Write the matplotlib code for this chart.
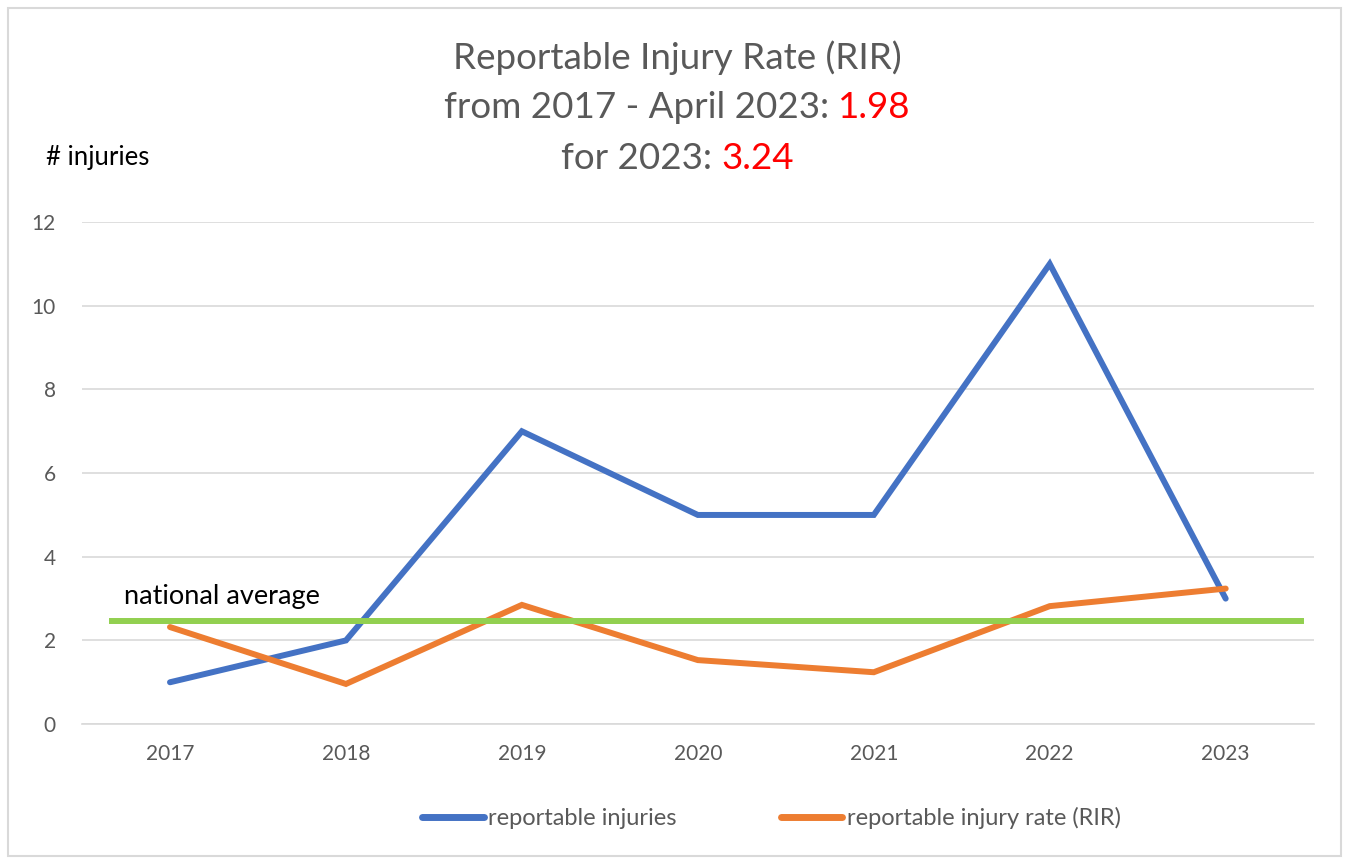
import matplotlib.pyplot as plt
from matplotlib.lines import Line2D
from matplotlib.patches import Rectangle

# data
years = ["2017", "2018", "2019", "2020", "2021", "2022", "2023"]
injuries = [1, 2, 7, 5, 5, 11, 3]
rir = [2.32, 0.96, 2.85, 1.53, 1.24, 2.82, 3.24]
national_avg = 2.46

blue = "#4472C4"
orange = "#ED7D31"
green = "#92D050"
grey = "#595959"

plt.rcParams["font.family"] = ["Lato", "DejaVu Sans"]

fig = plt.figure(figsize=(13.49, 8.61), dpi=100)
fig.patches.append(Rectangle((0.006, 0.006), 0.988, 0.985, transform=fig.transFigure,
                             fill=False, edgecolor="#D9D9D9", linewidth=1.5))

ax = fig.add_axes([0.0608, 0.159, 0.913, 0.583])
x = list(range(len(years)))
ax.plot(x, injuries, color=blue, lw=4.3, solid_capstyle="round", solid_joinstyle="miter", zorder=3)
ax.plot(x, rir, color=orange, lw=4.3, solid_capstyle="round", solid_joinstyle="miter", zorder=3)
ax.axhline(national_avg, xmin=0.024, xmax=0.99, color=green, lw=4.3, zorder=4)
ax.text(-0.26, national_avg + 0.3, "national average", fontsize=19.5, color="black", va="bottom")

ax.set_xlim(-0.5, len(years) - 0.5)
ax.set_ylim(0, 12)
ax.set_yticks(range(0, 13, 2))
ax.set_xticks(x)
ax.set_xticklabels(years)
ax.tick_params(length=0, labelsize=15, colors=grey)
ax.tick_params(axis="x", pad=14)
ax.tick_params(axis="y", pad=19)
ax.grid(axis="y", color="#D9D9D9", lw=1.2)
ax.set_axisbelow(True)
for s in ["top", "right", "left"]:
    ax.spines[s].set_visible(False)
ax.spines["bottom"].set_color("#D9D9D9")
ax.spines["bottom"].set_linewidth(1.2)

fig.text(0.034, 0.817, "# injuries", fontsize=18.5, color="black", va="center")

# title with red numbers
lines = [
    ("Reportable Injury Rate (RIR)", None, 0.933),
    ("from 2017 - April 2023: ", "1.98", 0.875),
    ("for 2023: ", "3.24", 0.816),
]
fig.canvas.draw()
r = fig.canvas.get_renderer()
for gtxt, rtxt, y in lines:
    t1 = fig.text(0, y, gtxt, fontsize=26.5, color=grey, va="center", ha="left")
    w1 = t1.get_window_extent(r).width
    w2 = 0
    if rtxt:
        t2 = fig.text(0, y, rtxt, fontsize=26.5, color="#FF0000", va="center", ha="left")
        w2 = t2.get_window_extent(r).width
    x0 = (0.502 * fig.bbox.width - (w1 + w2) / 2) / fig.bbox.width
    t1.set_x(x0)
    if rtxt:
        t2.set_x(x0 + w1 / fig.bbox.width)

handles = [Line2D([], [], color=blue, lw=5, solid_capstyle="round"),
           Line2D([], [], color=orange, lw=5, solid_capstyle="round")]
fig.legend(handles, ["reportable injuries", "reportable injury rate (RIR)"],
           loc="center", bbox_to_anchor=(0.572, 0.05), ncol=2, frameon=False,
           fontsize=17, labelcolor=grey, handlelength=2.6, handletextpad=0.2,
           columnspacing=4.4)

fig.savefig("out.png", dpi=100)
